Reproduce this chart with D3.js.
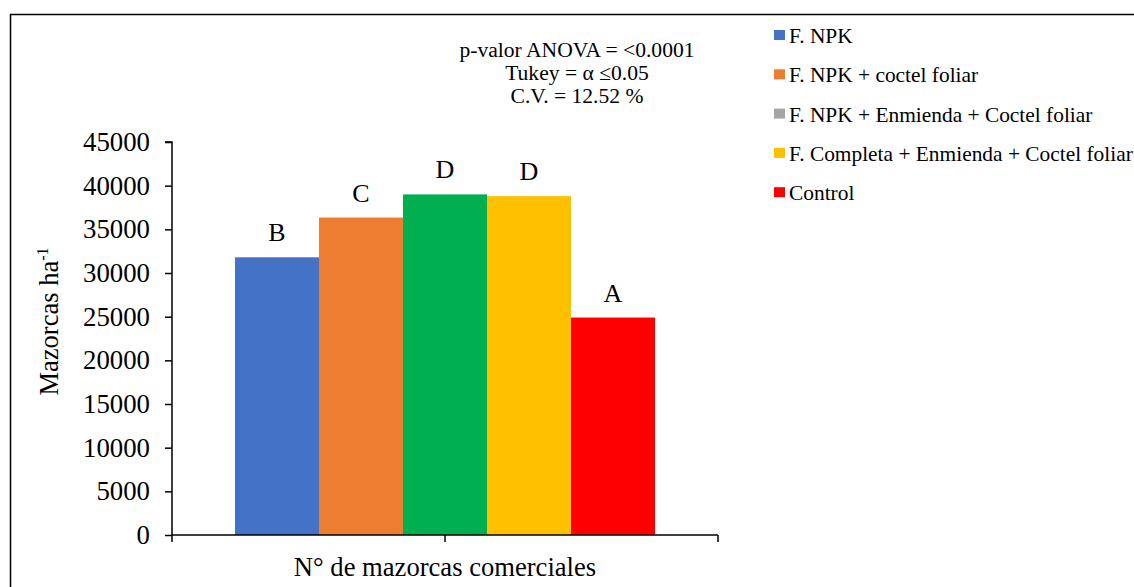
<!DOCTYPE html>
<html>
<head>
<meta charset="utf-8">
<script src="https://cdn.jsdelivr.net/npm/d3@7/dist/d3.min.js"></script>
<style>
  html, body { margin: 0; padding: 0; background: #fff; }
  svg text { font-family: "Liberation Serif", "Times New Roman", "DejaVu Serif", serif; }
</style>
</head>
<body>
<svg id="chart" width="1134" height="587"></svg>
<script>
// ---- data ----
const categories = ["N° de mazorcas comerciales"];
const seriesNames = [
  "F. NPK",
  "F. NPK + coctel foliar",
  "F. NPK + Enmienda + Coctel foliar",
  "F. Completa + Enmienda + Coctel foliar",
  "Control"
];
const seriesValues = [31800, 36350, 39000, 38800, 24900];
const tukeyLetters = ["B", "C", "D", "D", "A"];
const barColors = ["#4472C4", "#ED7D31", "#00B050", "#FFC000", "#FF0000"];
const legendColors = ["#4472C4", "#ED7D31", "#A5A5A5", "#FFC000", "#FF0000"];
const yTicks = [0, 5000, 10000, 15000, 20000, 25000, 30000, 35000, 40000, 45000];
const annotations = ["p-valor ANOVA = <0.0001", "Tukey = α ≤0.05", "C.V. = 12.52 %"];
const yLabel = "Mazorcas ha";
const yLabelSup = "-1";

// ---- layout ----
const svg = d3.select("#chart");
const plot = { left: 172, right: 718, top: 142, bottom: 535 };

// outer border
svg.append("rect")
  .attr("x", 10.5).attr("y", 14.5)
  .attr("width", 1300).attr("height", 700)
  .attr("fill", "none").attr("stroke", "#000").attr("stroke-width", 1.5);

const y = d3.scaleLinear().domain([0, 45000]).range([plot.bottom, plot.top]);
const x0 = d3.scaleBand().domain(categories).range([plot.left, plot.right])
  .paddingInner(0).paddingOuter(0.15);
const x1 = d3.scaleBand().domain(seriesNames).range([0, x0.bandwidth()]).padding(0);

// bars
const g = svg.append("g");
categories.forEach(cat => {
  const gc = g.append("g").attr("transform", `translate(${x0(cat)},0)`);
  gc.selectAll("rect").data(seriesNames).join("rect")
    .attr("x", (d) => x1(d))
    .attr("y", (d, i) => y(seriesValues[i]))
    .attr("width", x1.bandwidth())
    .attr("height", (d, i) => y(0) - y(seriesValues[i]))
    .attr("fill", (d, i) => barColors[i]);
  gc.selectAll("text").data(seriesNames).join("text")
    .attr("x", (d) => x1(d) + x1.bandwidth() / 2)
    .attr("y", (d, i) => y(seriesValues[i]) - 16)
    .attr("text-anchor", "middle")
    .attr("font-size", 26)
    .attr("fill", "#000")
    .text((d, i) => tukeyLetters[i]);
});

// y axis
const yAxis = d3.axisLeft(y).tickValues(yTicks).tickSize(7).tickPadding(15).tickFormat(d3.format("d"));
const gy = svg.append("g").attr("transform", `translate(${plot.left},0)`).call(yAxis);
gy.attr("font-family", null);
gy.select(".domain").attr("stroke", "#000").attr("stroke-width", 1.5).attr("d", `M-7,${plot.top}H0V${plot.bottom}`);
gy.selectAll(".tick line").attr("stroke", "#000").attr("stroke-width", 1.5);
gy.selectAll(".tick text").attr("font-size", 26.8).attr("fill", "#000");

// x axis
const xEdge = d3.scaleLinear().domain([0, 2]).range([plot.left, plot.right]);
const gx = svg.append("g").attr("transform", `translate(0,${plot.bottom})`);
gx.append("line").attr("x1", plot.left).attr("x2", plot.right).attr("y1", 0).attr("y2", 0)
  .attr("stroke", "#000").attr("stroke-width", 1.5);
gx.selectAll("line.tk").data([0, 1, 2]).join("line").attr("class", "tk")
  .attr("x1", d => xEdge(d)).attr("x2", d => xEdge(d))
  .attr("y1", 0).attr("y2", 7).attr("stroke", "#000").attr("stroke-width", 1.5);
svg.append("text")
  .attr("x", x0(categories[0]) + x0.bandwidth() / 2)
  .attr("y", 576)
  .attr("text-anchor", "middle").attr("font-size", 26.6).attr("fill", "#000")
  .text(categories[0]);

// y label
const yl = svg.append("text")
  .attr("transform", `translate(58,${(plot.top + plot.bottom) / 2 - 17}) rotate(-90)`)
  .attr("text-anchor", "middle").attr("font-size", 26.5).attr("fill", "#000");
yl.append("tspan").text(yLabel);
yl.append("tspan").attr("font-size", 16).attr("dy", -10).text(yLabelSup);

// annotation
svg.selectAll("text.ann").data(annotations).join("text").attr("class", "ann")
  .attr("x", 577).attr("y", (d, i) => 57 + i * 22.8)
  .attr("text-anchor", "middle").attr("font-size", 21.6).attr("fill", "#000")
  .text(d => d);

// legend
const lg = svg.append("g").attr("transform", "translate(774,0)");
const rows = lg.selectAll("g").data(seriesNames).join("g")
  .attr("transform", (d, i) => `translate(0,${43 + i * 39.3})`);
rows.append("rect").attr("x", 0).attr("y", -13).attr("width", 11).attr("height", 10)
  .attr("fill", (d, i) => legendColors[i]);
rows.append("text").attr("x", 15).attr("y", 0).attr("font-size", 21.4).attr("fill", "#000")
  .text(d => d);
</script>
</body>
</html>
